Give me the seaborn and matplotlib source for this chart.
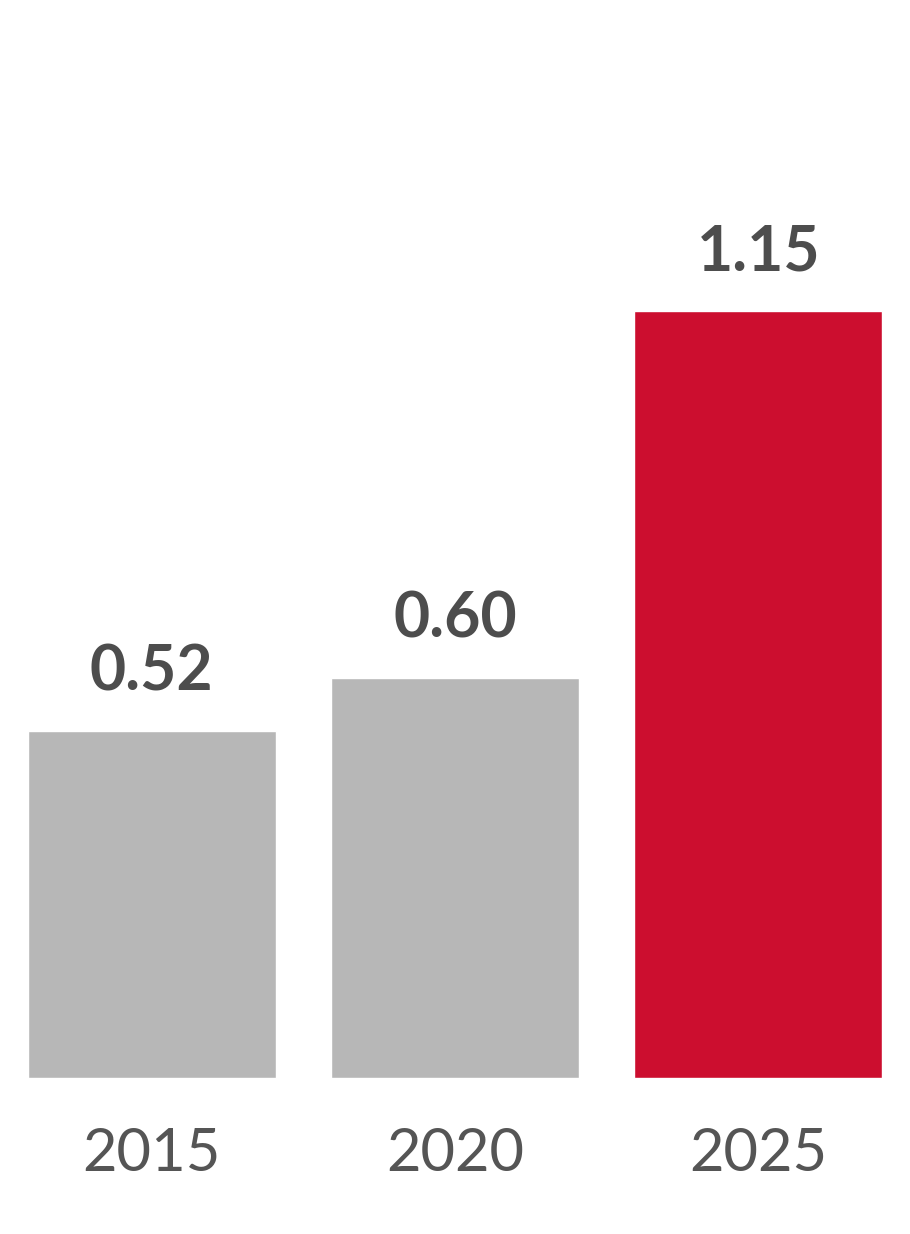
import matplotlib
matplotlib.use("Agg")
import pandas as pd
import seaborn as sns
from matplotlib import pyplot as plt

years = ["2015", "2020", "2025"]
values = [0.52, 0.60, 1.15]
bar_colors = ["#b7b7b7", "#b7b7b7", "#cc0e2f"]

sns.set_style("white")
plt.rcParams['font.family'] = ['Lato', 'DejaVu Sans']

df = pd.DataFrame({"year": years, "value": values})

fig = plt.figure(figsize=(9.1, 12.34), dpi=100)
ax = fig.add_axes([0, 156 / 1234, 1, 1078 / 1234])
sns.barplot(data=df, x="year", y="value", hue="year", palette=bar_colors,
            width=0.818, saturation=1, legend=False, ax=ax)

ax.set_xlim(-0.5, 2.5)
ax.set_ylim(0, 1078 / 667)

# value labels above each bar
for cont in ax.containers:
    ax.bar_label(cont, fmt="%.2f", padding=21, fontsize=45,
                 fontweight="bold", color="#4d4d4d")

ax.set_xlabel("")
ax.set_ylabel("")
ax.set_yticks([])
ax.tick_params(axis="x", length=0, pad=35, labelsize=43, labelcolor="#555555")
for lab in ax.get_xticklabels():
    lab.set_fontweight("normal")
sns.despine(ax=ax, left=True, bottom=True)

fig.savefig("out.png", dpi=100)
